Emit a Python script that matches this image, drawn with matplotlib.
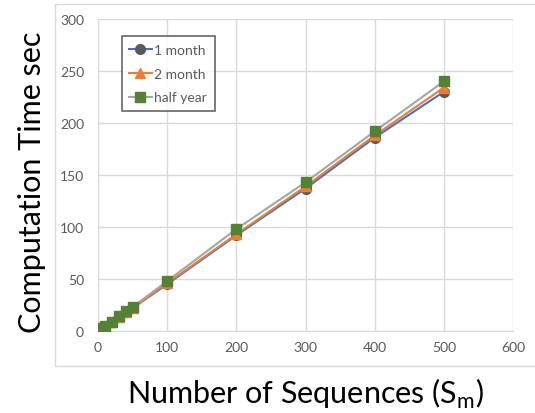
import matplotlib
matplotlib.use("Agg")
import matplotlib.pyplot as plt
from matplotlib.patches import Rectangle

plt.rcParams['font.family'] = ['Lato', 'DejaVu Sans']

# Sequence counts and computation times (seconds)
seq_small = [5, 10, 20, 30, 40, 50]
seq_large = [100, 200, 300, 400, 500]
sequences = seq_small + seq_large

time_1_month = [2, 5, 9, 13, 18, 22, 45, 92, 137, 186, 230]
time_2_month = [2, 5, 9, 13, 18, 22, 46, 93, 139, 188, 234]
time_half_year = [3, 5, 9, 14, 19, 23, 48, 98, 143, 192, 240]

series_labels = ["1 month", "2 month", "half year"]

x_ticks = [0, 100, 200, 300, 400, 500, 600]
y_ticks = [0, 50, 100, 150, 200, 250, 300]

fig = plt.figure(figsize=(5.35, 4.14), dpi=100)
ax = fig.add_axes([98 / 535, 1 - 332 / 414, (513 - 98) / 535, (332 - 20) / 414])

# Outer chart frame
fig.patches.append(Rectangle((55 / 535, 1 - 367 / 414), 1.0, (367 - 5) / 414,
                             transform=fig.transFigure, fill=False,
                             edgecolor='#d9d9d9', linewidth=1.0, zorder=0))

grid_c = '#d9d9d9'
ax.plot(sequences, time_1_month, color='#4472c4', lw=1.5, marker='o', ms=7,
        mfc='#595959', mec='#595959', label=series_labels[0], zorder=3)
ax.plot(sequences, time_2_month, color='#ed7d31', lw=1.5, marker='^', ms=7,
        mfc='#ed7d31', mec='#ed7d31', label=series_labels[1], zorder=4)
ax.plot(sequences, time_half_year, color='#a5a5a5', lw=1.5, marker='s', ms=7,
        mfc='#548235', mec='#548235', label=series_labels[2], zorder=5)

ax.set_xlim(0, 600)
ax.set_ylim(0, 300)
ax.set_xticks(x_ticks)
ax.set_yticks(y_ticks)
ax.grid(True, color=grid_c, lw=1.0)
ax.set_axisbelow(True)
for s in ax.spines.values():
    s.set_visible(False)
ax.spines['left'].set_visible(True)
ax.spines['bottom'].set_visible(True)
ax.spines['left'].set_color(grid_c)
ax.spines['bottom'].set_color(grid_c)
ax.tick_params(axis='y', length=0, labelsize=10, colors='#595959', pad=10)
ax.tick_params(axis='x', length=0, labelsize=10, colors='#595959', pad=7)

ax.set_xlabel(r"Number of Sequences (S$_{\mathregular{m}}$)", fontsize=22,
              color='black', labelpad=17)
ax.set_ylabel("Computation Time sec", fontsize=22, color='black', labelpad=10)
ax.yaxis.label.set_y(0.48)

leg = ax.legend(loc='upper left', bbox_to_anchor=(0.057, 0.945), fontsize=10,
                frameon=True, fancybox=False, edgecolor='#404040',
                handlelength=1.6, handletextpad=0.2, borderpad=0.55,
                labelspacing=0.85, borderaxespad=0.0, labelcolor='#595959')
leg.get_frame().set_linewidth(1.2)

fig.savefig("out.png", dpi=100)
